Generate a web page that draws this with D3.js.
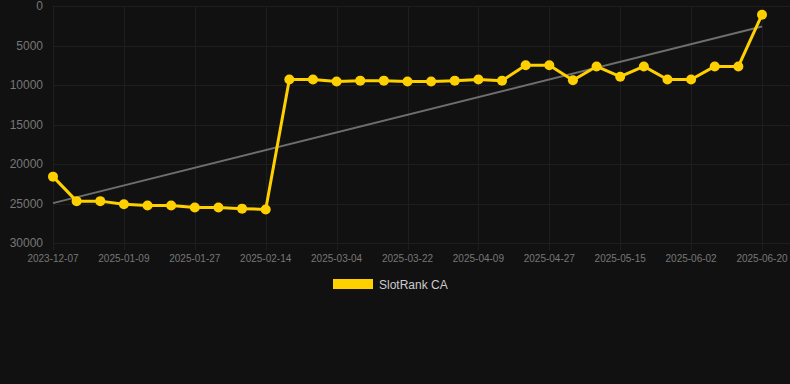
<!DOCTYPE html>
<html>
<head>
<meta charset="utf-8">
<script src="https://cdn.jsdelivr.net/npm/d3@7"></script>
<style>
  body { margin: 0; background: #111111; }
  svg { display: block; font-family: "Liberation Sans", Arial, sans-serif; }
</style>
</head>
<body>
<div id="chart"></div>
<script>
// Dates (one every 6 days after the first point)
const dates = [
  "2023-12-07", "2024-12-28", "2025-01-03", "2025-01-09", "2025-01-15", "2025-01-21",
  "2025-01-27", "2025-02-02", "2025-02-08", "2025-02-14", "2025-02-20", "2025-02-26",
  "2025-03-04", "2025-03-10", "2025-03-16", "2025-03-22", "2025-03-28", "2025-04-03",
  "2025-04-09", "2025-04-15", "2025-04-21", "2025-04-27", "2025-05-03", "2025-05-09",
  "2025-05-15", "2025-05-21", "2025-05-27", "2025-06-02", "2025-06-08", "2025-06-14",
  "2025-06-20"
];

// Rank values
const ranks = [
  21600, 24700, 24700, 25100, 25250, 25250, 25500, 25500, 25650, 25750,
  9300, 9300, 9550, 9450, 9450, 9550, 9550, 9450, 9300, 9450,
  7500, 7500, 9400, 7650, 8950, 7650, 9300, 9300, 7650, 7650,
  1100
];

// Trend line, value at first and last date
const trendValues = [24950, 2600];

const yTicks = [0, 5000, 10000, 15000, 20000, 25000, 30000];
const seriesName = "SlotRank CA";

const W = 790, H = 384;
const area = {left: 53, right: 762, top: 6, bottom: 243};

const svg = d3.select("#chart").append("svg")
  .attr("width", W)
  .attr("height", H);

svg.append("rect").attr("width", W).attr("height", H).attr("fill", "#111111");

const x = d3.scalePoint()
  .domain(dates)
  .range([area.left, area.right]);

const y = d3.scaleLinear()
  .domain([0, 30000])
  .range([area.top, area.bottom]);

const labelDates = dates.filter((d, i) => i % 3 === 0);

// Grid lines
svg.append("g")
  .selectAll("line")
  .data(yTicks)
  .join("line")
    .attr("x1", area.left)
    .attr("x2", W)
    .attr("y1", d => Math.round(y(d)) + 0.5)
    .attr("y2", d => Math.round(y(d)) + 0.5)
    .attr("stroke", "#1e1e1e");

svg.append("g")
  .selectAll("line")
  .data(labelDates)
  .join("line")
    .attr("x1", d => Math.round(x(d)) + 0.5)
    .attr("x2", d => Math.round(x(d)) + 0.5)
    .attr("y1", area.top)
    .attr("y2", area.bottom + 7)
    .attr("stroke", "#1e1e1e");

// Y labels
svg.append("g")
  .selectAll("text")
  .data(yTicks)
  .join("text")
    .attr("x", 43)
    .attr("y", d => y(d))
    .attr("dy", "0.35em")
    .attr("text-anchor", "end")
    .attr("fill", "#777777")
    .style("font-size", "12px")
    .text(d => d);

// X labels
svg.append("g")
  .selectAll("text")
  .data(labelDates)
  .join("text")
    .attr("x", d => x(d))
    .attr("y", 262)
    .attr("text-anchor", "middle")
    .attr("fill", "#777777")
    .style("font-size", "10px")
    .text(d => d);

// Trend line
svg.append("line")
  .attr("x1", x(dates[0]))
  .attr("x2", x(dates[dates.length - 1]))
  .attr("y1", y(trendValues[0]))
  .attr("y2", y(trendValues[1]))
  .attr("stroke", "#6e6e6e")
  .attr("stroke-width", 2);

// Series
const line = d3.line()
  .x((d, i) => x(dates[i]))
  .y(d => y(d));

svg.append("path")
  .datum(ranks)
  .attr("d", line)
  .attr("fill", "none")
  .attr("stroke", "#ffd000")
  .attr("stroke-width", 3)
  .attr("stroke-linejoin", "round");

svg.append("g")
  .selectAll("circle")
  .data(ranks)
  .join("circle")
    .attr("cx", (d, i) => x(dates[i]))
    .attr("cy", d => y(d))
    .attr("r", 5)
    .attr("fill", "#ffd000");

// Legend
svg.append("rect")
  .attr("x", 333)
  .attr("y", 279)
  .attr("width", 40)
  .attr("height", 10)
  .attr("fill", "#ffd000");

svg.append("text")
  .attr("x", 379)
  .attr("y", 288.5)
  .attr("fill", "#cccccc")
  .style("font-size", "12px")
  .text(seriesName);
</script>
</body>
</html>
